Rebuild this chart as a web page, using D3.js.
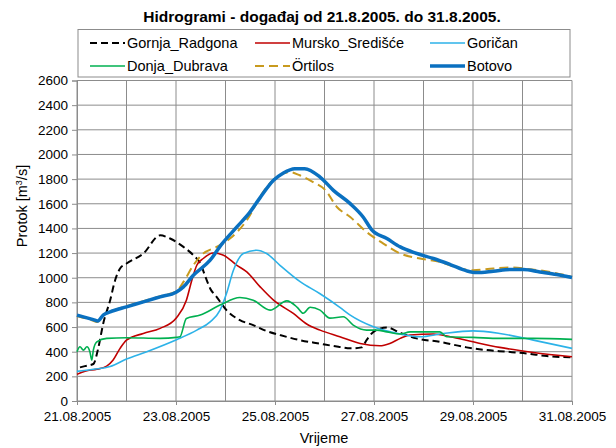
<!DOCTYPE html>
<html><head><meta charset="utf-8">
<script src="https://cdn.jsdelivr.net/npm/d3@7"></script>
<style>
html,body{margin:0;padding:0;background:#fff;}
svg{display:block;font-family:"Liberation Sans",Arial,sans-serif;}
</style></head>
<body><svg id="c" width="616" height="448"></svg>
<script>
// Data: [days since 21.08.2005 00:00, discharge m3/s]
const gornjaRadgona = [[0.06,273],[0.16,283],[0.33,300],[0.43,430],[0.53,629],[0.67,818],[0.77,980],[0.87,1075],[1.00,1115],[1.34,1196],[1.68,1344],[1.88,1318],[2.15,1250],[2.35,1183],[2.49,1115],[2.62,980],[2.69,913],[2.82,845],[3.02,737],[3.29,656],[3.56,616],[3.83,567],[4.10,535],[4.50,494],[4.91,465],[5.28,440],[5.52,427],[5.75,435],[5.85,494],[5.99,561],[6.26,597],[6.53,553],[6.86,508],[7.33,480],[7.87,435],[8.28,413],[8.68,400],[9.08,386],[9.49,365],[10.0,354]];
const murskoSredisce = [[0,216],[0.20,245],[0.40,257],[0.60,283],[0.73,332],[0.87,427],[1.00,494],[1.34,548],[1.68,589],[2.01,676],[2.21,818],[2.32,980],[2.42,1101],[2.55,1156],[2.75,1201],[2.96,1183],[3.23,1101],[3.43,1047],[3.70,926],[3.97,818],[4.37,710],[4.64,625],[4.91,575],[5.31,521],[5.72,467],[6.12,448],[6.32,467],[6.53,508],[6.73,535],[7.20,543],[7.54,521],[8.00,480],[8.54,435],[9.22,394],[10.0,359]];
const gorican = [[0,240],[0.33,257],[0.67,280],[1.00,340],[1.41,400],[2.01,497],[2.42,575],[2.69,642],[2.89,737],[3.02,872],[3.16,1061],[3.36,1196],[3.63,1223],[3.83,1196],[4.10,1101],[4.50,970],[4.91,870],[5.31,760],[5.52,697],[5.99,602],[6.53,543],[6.93,521],[7.40,548],[8.00,569],[8.54,548],[9.22,494],[10.0,427]];
const donjaDubrava = [[0,400],[0.06,440],[0.13,413],[0.20,440],[0.26,400],[0.30,332],[0.33,413],[0.40,480],[0.60,508],[1.00,513],[1.68,508],[2.01,516],[2.08,521],[2.21,670],[2.49,697],[2.89,778],[3.29,840],[3.56,818],[3.90,737],[4.24,812],[4.45,760],[4.57,712],[4.71,760],[4.91,737],[5.11,672],[5.38,683],[5.58,616],[5.85,575],[6.05,575],[6.26,561],[6.53,543],[6.73,561],[7.33,561],[7.47,521],[8.00,516],[8.54,508],[9.22,508],[10.0,500]];
const ortilos = [[0,690],[0.33,650],[0.40,640],[0.53,700],[0.67,725],[1.00,770],[1.34,810],[1.68,850],[2.01,890],[2.15,966],[2.35,1101],[2.55,1196],[2.82,1250],[3.09,1318],[3.43,1466],[3.76,1695],[4.03,1817],[4.30,1857],[4.50,1831],[4.77,1776],[5.02,1710],[5.25,1574],[5.52,1493],[5.85,1371],[6.19,1277],[6.53,1196],[6.93,1156],[7.33,1128],[7.74,1075],[8.00,1061],[8.41,1075],[8.75,1083],[9.15,1069],[9.56,1047],[10.0,1007]];
const botovo = [[0,697],[0.33,660],[0.42,650],[0.53,697],[0.67,723],[1.00,764],[1.34,804],[1.68,845],[2.01,885],[2.15,926],[2.35,1020],[2.69,1142],[2.92,1270],[3.23,1412],[3.49,1530],[3.70,1650],[3.97,1790],[4.17,1850],[4.40,1885],[4.60,1885],[4.91,1817],[5.18,1709],[5.52,1601],[5.78,1493],[5.95,1391],[6.26,1318],[6.53,1250],[6.83,1201],[7.20,1156],[7.54,1107],[7.87,1056],[8.07,1042],[8.41,1053],[8.75,1067],[9.02,1067],[9.35,1047],[9.69,1026],[10.0,1002]];

const seriesNames = ["Gornja_Radgona","Mursko_Središće","Goričan","Donja_Dubrava","Örtilos","Botovo"];
const seriesData = [gornjaRadgona, murskoSredisce, gorican, donjaDubrava, ortilos, botovo];
const yTicks = d3.range(0, 2601, 200);
const xTickDays = [0,2,4,6,8,10];

const styles = [
  {color:"#000000", width:2, dash:"7,4"},
  {color:"#c00000", width:1.6, dash:null},
  {color:"#2cb2e8", width:1.6, dash:null},
  {color:"#00b050", width:1.6, dash:null},
  {color:"#c89a1e", width:2, dash:"9,5"},
  {color:"#0a70c0", width:3.5, dash:null}
];

const svg = d3.select("#c");
const L = 77, R = 572, T = 80.5, B = 401;
const start = new Date(2005, 7, 21);
const dayToDate = d => new Date(start.getTime() + d * 86400000);
const x = d3.scaleTime().domain([start, dayToDate(10)]).range([L, R]);
const y = d3.scaleLinear().domain([0, 2600]).range([B, T]);
const grid = "#8c8c8c";

// gridlines
const g = svg.append("g");
g.selectAll("line.h").data(yTicks).join("line")
  .attr("x1", L).attr("x2", R).attr("y1", d => y(d)).attr("y2", d => y(d))
  .attr("stroke", grid).attr("stroke-width", 1);
g.selectAll("line.v").data(d3.range(0, 11)).join("line")
  .attr("x1", d => x(dayToDate(d))).attr("x2", d => x(dayToDate(d)))
  .attr("y1", T).attr("y2", B)
  .attr("stroke", grid).attr("stroke-width", 1);

// axes
const yAxis = svg.append("g").attr("transform", `translate(${L},0)`)
  .call(d3.axisLeft(y).tickValues(yTicks).tickFormat(d3.format("d")).tickSize(5).tickPadding(4));
const xAxis = svg.append("g").attr("transform", `translate(0,${B})`)
  .call(d3.axisBottom(x).tickValues(xTickDays.map(dayToDate)).tickFormat(d3.timeFormat("%d.%m.%Y")).tickSize(4).tickPadding(6));
[yAxis, xAxis].forEach(a => {
  a.select(".domain").attr("stroke", grid);
  a.selectAll(".tick line").attr("stroke", grid);
  a.selectAll(".tick text").attr("fill", "#000").style("font-size", "13.5px").style("font-family", '"Liberation Sans",Arial,sans-serif');
});

// lines
const line = d3.line().x(d => x(dayToDate(d[0]))).y(d => y(d[1])).curve(d3.curveMonotoneX);
seriesData.forEach((data, i) => {
  const s = styles[i];
  svg.append("path").datum(data).attr("d", line)
    .attr("fill", "none").attr("stroke", s.color).attr("stroke-width", s.width)
    .attr("stroke-dasharray", s.dash).attr("stroke-linejoin", "round");
});

// title
svg.append("text").attr("x", 322).attr("y", 22).attr("text-anchor", "middle")
  .style("font-size", "15.5px").style("font-weight", "bold").text("Hidrogrami - događaj od 21.8.2005. do 31.8.2005.");

// axis titles
const yl = svg.append("text").attr("transform", "translate(27,206) rotate(-90)")
  .attr("text-anchor", "middle").style("font-size", "14.5px");
yl.append("tspan").text("Protok [m");
yl.append("tspan").attr("dy", -5).style("font-size", "9px").text("3");
yl.append("tspan").attr("dy", 5).text("/s]");
svg.append("text").attr("x", 324).attr("y", 443).attr("text-anchor", "middle")
  .style("font-size", "14.5px").text("Vrijeme");

// legend
svg.append("rect").attr("x", 78).attr("y", 29.5).attr("width", 492).attr("height", 47.5)
  .attr("fill", "#fff").attr("stroke", "#8c8c8c").attr("stroke-width", 1);
const colX = [90, 255, 430];
const rowY = [43, 66];
seriesNames.forEach((name, i) => {
  const cx = colX[i % 3], cy = rowY[Math.floor(i / 3)];
  const s = styles[i];
  svg.append("line").attr("x1", cx).attr("x2", cx + 35).attr("y1", cy).attr("y2", cy)
    .attr("stroke", s.color).attr("stroke-width", s.width).attr("stroke-dasharray", s.dash);
  svg.append("text").attr("x", cx + 37).attr("y", cy + 5).style("font-size", "14.5px").text(name);
});
</script></body></html>
